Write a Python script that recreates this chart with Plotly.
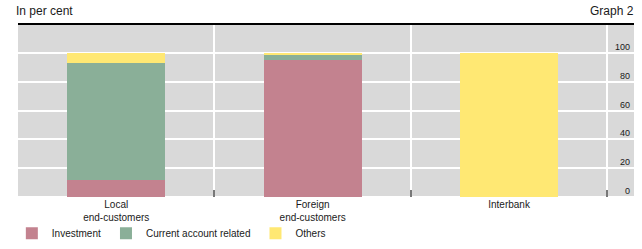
import plotly.graph_objects as go

categories = ["Local<br>end-customers", "Foreign<br>end-customers", "Interbank"]
investment = [12, 95, 0]
current_account = [81, 4, 0]
others = [7, 1, 100]
y_ticks = [0, 20, 40, 60, 80, 100]

FONT = "Arial, Liberation Sans, sans-serif"
x_pos = list(range(len(categories)))

fig = go.Figure()
fig.add_trace(go.Bar(x=x_pos, y=investment, name="Investment", marker_color="#C3828F", width=0.5, marker_line_width=0))
fig.add_trace(go.Bar(x=x_pos, y=current_account, name="Current account related", marker_color="#8AAF98", width=0.5, marker_line_width=0))
fig.add_trace(go.Bar(x=x_pos, y=others, name="Others", marker_color="#FFE873", width=0.5, marker_line_width=0))
# invisible traces on overlay axes so that they render
fig.add_trace(go.Scatter(x=[0], y=[0], xaxis="x2", mode="markers", marker_opacity=0, showlegend=False, hoverinfo="skip"))
fig.add_trace(go.Scatter(x=[0], y=[0], xaxis="x3", mode="markers", marker_opacity=0, showlegend=False, hoverinfo="skip"))

xr = [-0.5, 2.636]
fig.update_layout(
    width=642, height=249,
    margin=dict(l=18, r=8, t=25, b=52, autoexpand=False),
    barmode="stack",
    paper_bgcolor="white",
    plot_bgcolor="#D9D9D9",
    font=dict(family=FONT, size=10, color="#1a1a1a"),
    xaxis=dict(range=xr, tickvals=x_pos, ticktext=categories, showgrid=False,
               ticks="", zeroline=False, ticklabelstandoff=0,
               tickfont=dict(size=10, color="#1a1a1a")),
    xaxis2=dict(range=xr, overlaying="x", side="top", tickvals=[0.5, 1.5, 2.5],
                showgrid=True, gridcolor="white", gridwidth=1.5, showticklabels=False,
                showline=True, linecolor="black", linewidth=1.5, ticks="", zeroline=False),
    xaxis3=dict(range=xr, overlaying="x", side="bottom", tickvals=[-0.5, 0.5, 1.5, 2.5],
                showgrid=False, showticklabels=False, ticks="inside", ticklen=7,
                tickcolor="#777777", tickwidth=1.5, zeroline=False),
    yaxis=dict(range=[0, 119.3], tickvals=y_ticks, side="right", ticklabelposition="inside",
               showgrid=True, gridcolor="white", gridwidth=1.5, zeroline=True,
               zerolinecolor="white", zerolinewidth=1.5, ticklabelshift=-6, ticklabelstandoff=1,
               tickfont=dict(size=9, color="#1a1a1a")),
    legend=dict(orientation="h", x=-0.01, xanchor="left", yref="container", y=0.063, yanchor="middle",
                font=dict(size=10, color="#1a1a1a"), bgcolor="rgba(0,0,0,0)", traceorder="normal"),
    showlegend=True,
    annotations=[
        dict(text="In per cent", xref="paper", yref="paper", x=0, y=1, xanchor="left", yanchor="middle",
             xshift=-4, yshift=14, showarrow=False, font=dict(size=12, color="#1a1a1a")),
        dict(text="Graph 2", xref="paper", yref="paper", x=1, y=1, xanchor="right", yanchor="middle",
             xshift=2, yshift=14, showarrow=False, font=dict(size=12, color="#1a1a1a")),
    ],
)

fig.write_html("out.html")
